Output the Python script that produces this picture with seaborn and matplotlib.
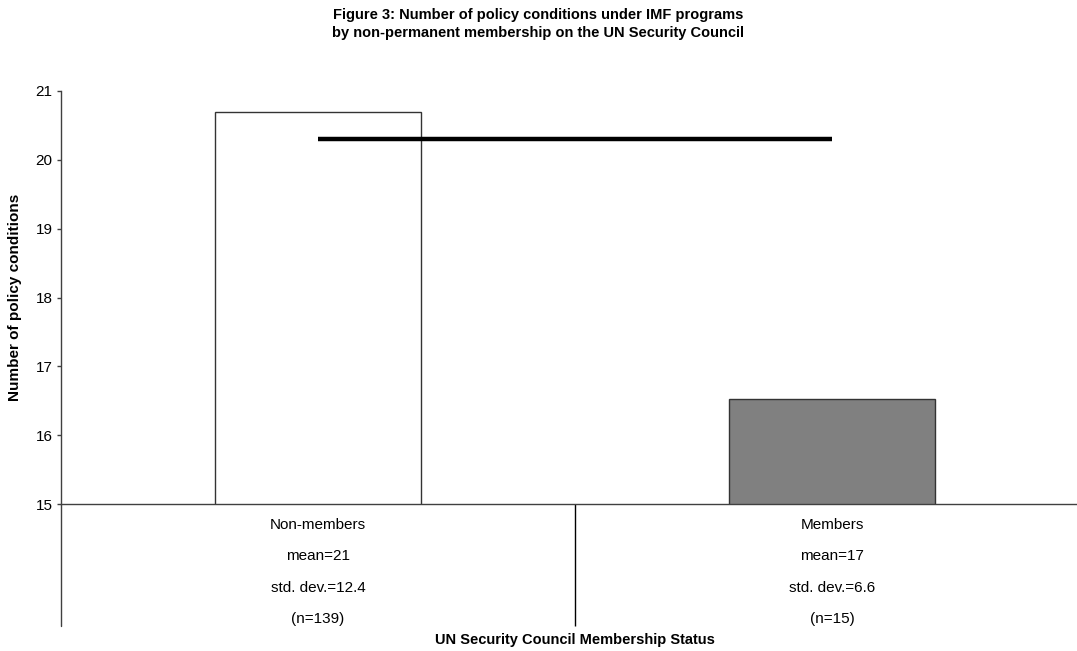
import matplotlib
matplotlib.use("Agg")
import matplotlib.pyplot as plt
import seaborn as sns
import numpy as np
import pandas as pd

# data
groups = ['Non-members', 'Members']
mean_conditions = [20.7, 16.53]
overall_mean = [20.3, 20.3]
mean_label = ['21', '17']
std_label = ['12.4', '6.6']
n_obs = [139, 15]
bar_colors = ['#ffffff', '#808080']

sns.set_style("ticks")
plt.rcParams['font.family'] = ['Liberation Sans', 'DejaVu Sans']
plt.rcParams['text.color'] = 'black'
plt.rcParams['xtick.labelcolor'] = 'black'
plt.rcParams['ytick.labelcolor'] = 'black'
plt.rcParams['axes.labelcolor'] = 'black'

df = pd.DataFrame({'group': groups, 'conditions': mean_conditions})

fig = plt.figure(figsize=(10.77, 6.51), dpi=100)
# axes runs a bit past the right edge, like the cropped original
ax = fig.add_axes([61 / 1077, 1 - 504 / 651, 1028 / 1077, 413 / 651])

sns.barplot(data=df, x='group', y='conditions', hue='group', palette=bar_colors,
            width=0.4, edgecolor='#333333', linewidth=1, legend=False, ax=ax)

pos = np.arange(len(groups))
ax.plot(pos, overall_mean, color='black', linewidth=3.2, solid_capstyle='butt')

ax.set_ylim(15, 21)
ax.set_yticks(range(15, 22))
ax.set_xlim(-0.5, len(groups) - 0.5)

# category boundaries as long outward ticks, labels on minor ticks
ax.set_xticks(pos[:-1] + 0.5)
ax.set_xticklabels([])
ax.set_xticks(pos, minor=True)
labels = [f'{g}\nmean={m}\nstd. dev.={s}\n(n={n})'
          for g, m, s, n in zip(groups, mean_label, std_label, n_obs)]
ax.set_xticklabels(labels, minor=True)
ax.tick_params(axis='x', which='major', length=88, width=1, color='black', direction='out')
ax.tick_params(axis='x', which='minor', length=0, pad=10, labelsize=11)
ax.tick_params(axis='y', length=3, width=1, color='#404040', pad=3, labelsize=11)
for lab in ax.get_xticklabels(minor=True):
    lab.set_linespacing(2.58)

sns.despine(ax=ax, top=True, right=True)
for side in ['left', 'bottom']:
    ax.spines[side].set_color('#404040')
    ax.spines[side].set_linewidth(1)
# left spine continues down past the axis, like the original
ax.plot([-0.5, -0.5], [15, 15 - 122 / 413 * 6], color='#404040', linewidth=1,
        clip_on=False)

ax.set_ylabel('Number of policy conditions', fontsize=11, fontweight='bold')
ax.yaxis.set_label_coords(-0.038, 0.5)
ax.set_xlabel('UN Security Council Membership Status', fontsize=10.5, fontweight='bold')
ax.xaxis.set_label_coords(0.5, -0.312)

fig.suptitle('Figure 3: Number of policy conditions under IMF programs\n'
             'by non-permanent membership on the UN Security Council',
             fontsize=10.5, fontweight='bold', y=0.987, linespacing=1.3)

fig.savefig('out.png', dpi=100)
plt.close(fig)
